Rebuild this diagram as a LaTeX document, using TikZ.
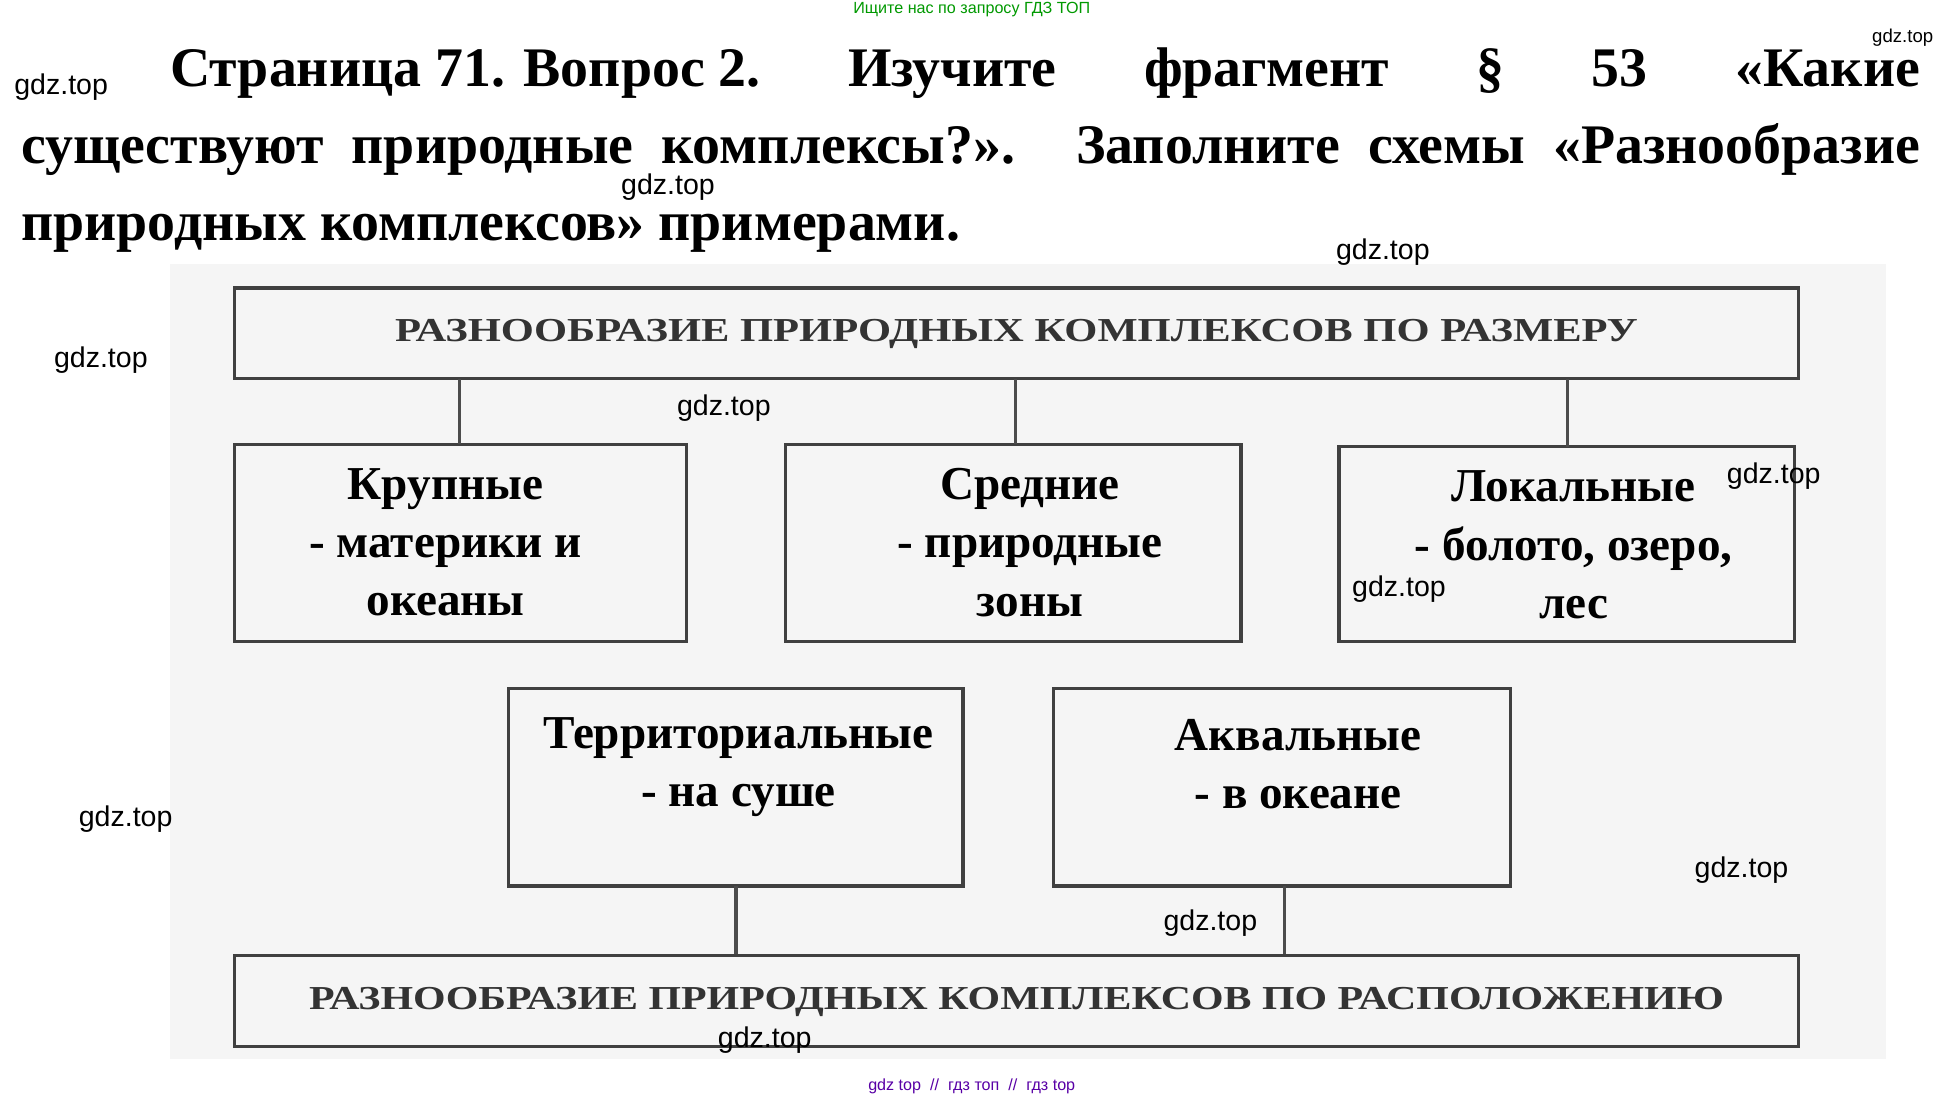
\documentclass[tikz,border=0pt]{standalone}
\usepackage{fontspec}
\setmainfont{Liberation Serif}
\newfontfamily\wm{Liberation Sans}
\begin{document}
\begin{tikzpicture}[x=1pt,y=-1pt,
  bx/.style={draw=black!75,line width=2.6pt},
  ln/.style={draw=black!70,line width=2.6pt},
  hd/.style={font=\fontsize{27}{30}\selectfont\bfseries,text=black!80},
  bt/.style={font=\fontsize{38}{47}\selectfont\bfseries,align=center,text=black},
  gd/.style={font=\wm\fontsize{23}{26}\selectfont,anchor=west,text=black}]
\useasboundingbox (0,0) rectangle (1560,882);
\fill[white] (0,0) rectangle (1560,882);
\fill[black!4] (137,213) rectangle (1520,853);
\node[font=\wm\fontsize{13}{14}\selectfont,text=green!60!black] (top) at (783,8) {Ищите нас по запросу ГДЗ ТОП};
\node[font=\wm\fontsize{13}{14}\selectfont,text=violet!70!blue] (bot) at (783,875) {gdz top \ // \ гдз топ \ // \ гдз top};
\begin{scope}[every node/.style={font=\fontsize{45}{50}\selectfont\bfseries,anchor=base west,inner sep=0}]
\node (t1) at (137,70) {\hbox to 1410pt{Страница 71. Вопрос 2.\hfill Изучите\hfill фрагмент\hfill §\hfill 53\hfill «Какие}};
\node (t2) at (17,132) {\hbox to 1530pt{существуют природные комплексы?». Заполните схемы «Разнообразие}};
\node (t3) at (17,194) {природных комплексов» примерами.};
\end{scope}
\draw[bx] (189,232) rectangle (1449,305);
\node[hd] (h1) at (819,269) {\scalebox{1.27}[1]{РАЗНООБРАЗИЕ ПРИРОДНЫХ КОМПЛЕКСОВ ПО РАЗМЕРУ}};
\draw[bx] (189,358) rectangle (553,517);
\draw[bx] (633,358) rectangle (1000,517);
\draw[bx] (1079,360) rectangle (1446,517);
\draw[ln] (370,305) -- (370,358) (818,305) -- (818,358) (1263,305) -- (1263,360);
\node[bt] (a) at (359,437) {Крупные\\- материки и\\океаны};
\node[bt] (b) at (830,437) {Средние\\- природные\\зоны};
\node[bt] (c) at (1268,439) {Локальные\\- болото, озеро,\\лес};
\draw[bx] (410,555) rectangle (776,714);
\draw[bx] (849,555) rectangle (1217,714);
\node[bt] (d) at (595,618) {Территориальные\\- на суше};
\node[bt] (e) at (1046,616) {Аквальные\\- в океане};
\draw[ln] (593,714) -- (593,770) (1035,714) -- (1035,770);
\draw[bx] (189,770) rectangle (1449,843);
\node[hd] (h2) at (819,807) {\scalebox{1.25}[1]{РАЗНООБРАЗИЕ ПРИРОДНЫХ КОМПЛЕКСОВ ПО РАСПОЛОЖЕНИЮ}};
\foreach \x/\y [count=\i] in {8/70,497/151,1073/203,40/290,542/329,1388/384,1086/475,60/660,1362/701,934/744,575/838}
  \node[gd] (g\i) at (\x,\y) {gdz.top};
\node[gd,font=\wm\fontsize{15}{16}\selectfont] (g0) at (1505,30) {gdz.top};
\end{tikzpicture}
\end{document}
